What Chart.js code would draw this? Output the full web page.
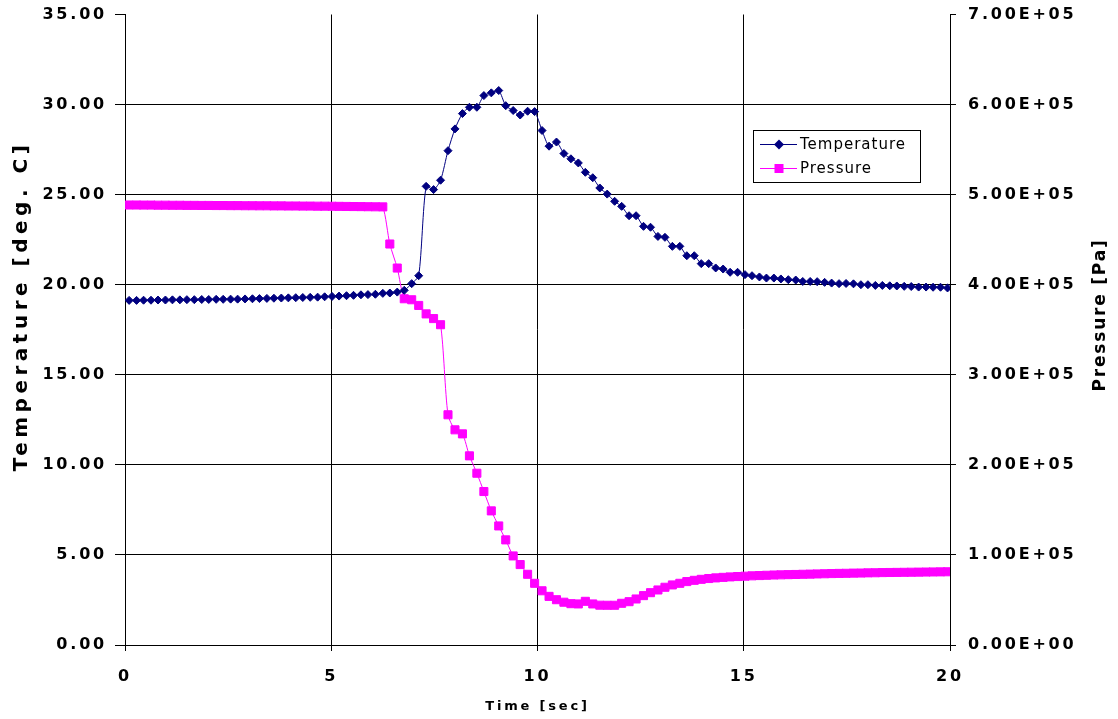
<!DOCTYPE html>
<html><head><meta charset="utf-8">
<script src="https://cdn.jsdelivr.net/npm/chart.js@4"></script>
<style>html,body{margin:0;padding:0;background:#fff;}canvas{display:block;}</style>
</head><body>
<canvas id="c" width="1118" height="719" style="width:1118px;height:719px"></canvas>
<script>
const timeSec = [0.10,0.28,0.45,0.63,0.80,0.98,1.15,1.33,1.50,1.68,1.86,2.03,2.21,2.38,2.56,2.73,2.91,3.09,3.26,3.44,3.61,3.79,3.96,4.14,4.31,4.49,4.67,4.84,5.02,5.19,5.37,5.54,5.72,5.89,6.07,6.25,6.42,6.60,6.77,6.95,7.12,7.30,7.48,7.65,7.83,8.00,8.18,8.35,8.53,8.70,8.88,9.06,9.23,9.41,9.58,9.76,9.93,10.11,10.28,10.46,10.64,10.81,10.99,11.16,11.34,11.51,11.69,11.87,12.04,12.22,12.39,12.57,12.74,12.92,13.09,13.27,13.45,13.62,13.80,13.97,14.15,14.32,14.50,14.67,14.85,15.03,15.20,15.38,15.55,15.73,15.90,16.08,16.26,16.43,16.61,16.78,16.96,17.13,17.31,17.48,17.66,17.84,18.01,18.19,18.36,18.54,18.71,18.89,19.06,19.24,19.42,19.59,19.77,19.94];
const temperature = [19.13,19.13,19.14,19.14,19.15,19.15,19.16,19.16,19.17,19.17,19.18,19.18,19.19,19.19,19.20,19.20,19.21,19.22,19.23,19.24,19.25,19.26,19.27,19.28,19.29,19.30,19.31,19.33,19.35,19.37,19.39,19.41,19.44,19.45,19.47,19.52,19.54,19.59,19.69,20.06,20.50,25.46,25.28,25.80,27.44,28.65,29.50,29.85,29.85,30.50,30.65,30.78,29.94,29.67,29.42,29.63,29.61,28.56,27.69,27.92,27.28,26.99,26.76,26.24,25.94,25.37,25.03,24.63,24.35,23.83,23.83,23.24,23.19,22.68,22.63,22.13,22.13,21.61,21.61,21.17,21.17,20.93,20.87,20.69,20.69,20.56,20.50,20.43,20.37,20.37,20.32,20.28,20.26,20.18,20.18,20.17,20.13,20.09,20.06,20.07,20.05,20.00,20.00,19.96,19.96,19.94,19.93,19.91,19.90,19.87,19.87,19.86,19.86,19.82];
const pressure = [488500,488500,488400,488400,488300,488300,488200,488200,488100,488100,488000,488000,487900,487900,487800,487800,487700,487700,487600,487600,487500,487500,487400,487400,487300,487300,487200,487200,487100,487000,486900,486800,486700,486600,486500,486400,445200,418500,384400,383300,377000,367600,362400,355600,255600,238900,234400,210000,190700,170400,148900,132200,116700,98900,89300,78500,68500,60200,54000,50300,47500,45900,45600,48500,45600,44200,44100,44100,46300,48100,51100,54800,58100,61100,64100,66700,68500,70400,71800,72900,73800,74500,75100,75600,76000,76400,76800,77100,77400,77700,77900,78100,78300,78500,78700,78900,79100,79300,79500,79600,79800,79900,80100,80200,80400,80500,80600,80700,80800,80900,81000,81100,81200,81300];
const seriesNames = ['Temperature', 'Pressure'];
const axisTitles = {x: 'Time [sec]', y: 'Temperature [deg. C]', y1: 'Pressure [Pa]'};
const xTickValues = [0, 5, 10, 15, 20];

const NAVY = '#000080', MAGENTA = '#FF00FF';
const tickFont = {family: 'DejaVu Sans', weight: 'bold', size: 16};

function sciLabel(v) {
  if (v === 0) return '0.00E+00';
  const e = Math.floor(Math.log10(Math.abs(v)) + 1e-9);
  const m = v / Math.pow(10, e);
  const es = (e < 0 ? '-' : '+') + String(Math.abs(e)).padStart(2, '0');
  return m.toFixed(2) + 'E' + es;
}

const spacingPlugin = {
  id: 'spacing',
  beforeDraw(chart) { chart.ctx.letterSpacing = '2.8px'; },
  beforeDatasetsDraw(chart) { chart.ctx.letterSpacing = '0px'; }
};

// vertical axis titles, both reading bottom-to-top as in the original
const yTitles = {
  id: 'yTitles',
  afterDraw(chart) {
    const ctx = chart.ctx;
    const items = [
      {text: axisTitles.y, x: 22, y: 306, size: 20, ls: '4.5px'},
      {text: axisTitles.y1, x: 1101, y: 315, size: 17, ls: '1.8px'}
    ];
    items.forEach(it => {
      ctx.save();
      ctx.letterSpacing = it.ls;
      ctx.translate(it.x, it.y);
      ctx.rotate(-Math.PI / 2);
      ctx.font = 'bold ' + it.size + 'px "DejaVu Sans"';
      ctx.fillStyle = '#000';
      ctx.textAlign = 'center';
      ctx.textBaseline = 'middle';
      ctx.fillText(it.text, 0, 0);
      ctx.restore();
    });
  }
};

const boxLegend = {
  id: 'boxLegend',
  afterDraw(chart) {
    const ctx = chart.ctx;
    ctx.save();
    ctx.letterSpacing = '1px';
    const bx = 753.5, by = 130.5, bw = 167, bh = 52;
    ctx.fillStyle = '#fff';
    ctx.fillRect(bx, by, bw, bh);
    ctx.strokeStyle = '#000';
    ctx.lineWidth = 1;
    ctx.strokeRect(bx, by, bw, bh);
    const rows = [144.5, 168.5];
    chart.data.datasets.forEach((ds, i) => {
      const y = rows[i];
      ctx.strokeStyle = ds.borderColor;
      ctx.lineWidth = 1;
      ctx.beginPath(); ctx.moveTo(760, y); ctx.lineTo(797, y); ctx.stroke();
      ctx.fillStyle = ds.borderColor;
      ctx.beginPath();
      if (ds.pointStyle === 'rectRot') {
        ctx.moveTo(779, y - 5); ctx.lineTo(784, y); ctx.lineTo(779, y + 5); ctx.lineTo(774, y); ctx.closePath();
      } else {
        ctx.rect(774.5, y - 4.5, 9, 9);
      }
      ctx.fill();
      ctx.fillStyle = '#000';
      ctx.font = '15px "DejaVu Sans"';
      ctx.textBaseline = 'middle';
      ctx.textAlign = 'left';
      ctx.fillText(ds.label, 800, y + 1);
    });
    ctx.restore();
  }
};

function fixV(s, w) { s.width = w; s.paddingTop = 0; s.paddingBottom = 0; }

new Chart(document.getElementById('c'), {
  type: 'scatter',
  data: {
    datasets: [
      {
        label: seriesNames[0],
        data: timeSec.map((t, i) => ({x: t, y: temperature[i]})),
        yAxisID: 'y',
        showLine: true,
        borderColor: NAVY, backgroundColor: NAVY,
        borderWidth: 1, tension: 0.25,
        pointStyle: 'rectRot', pointRadius: 4, pointBorderWidth: 1,
        pointBackgroundColor: NAVY, pointBorderColor: NAVY
      },
      {
        label: seriesNames[1],
        data: timeSec.map((t, i) => ({x: t, y: pressure[i]})),
        yAxisID: 'y1',
        showLine: true,
        borderColor: MAGENTA, backgroundColor: MAGENTA,
        borderWidth: 1, tension: 0.25,
        pointStyle: 'rect', pointRadius: 5.7, pointBorderWidth: 1,
        pointBackgroundColor: MAGENTA, pointBorderColor: MAGENTA
      }
    ]
  },
  options: {
    responsive: false,
    animation: false,
    devicePixelRatio: 1,
    layout: {padding: {top: 14.5, left: 0, right: 0, bottom: 0}},
    plugins: {legend: {display: false}, tooltip: {enabled: false}},
    scales: {
      x: {
        type: 'linear', min: 0, max: 20,
        afterBuildTicks: (s) => { s.ticks = xTickValues.map(v => ({value: v})); },
        afterFit: (s) => { s.height = 74; s.paddingLeft = 0; s.paddingRight = 0; },
        grid: {color: (c) => (c.tick && (c.tick.value === 0 || c.tick.value === 20)) ? 'rgba(0,0,0,0)' : '#000', lineWidth: 1, tickLength: 6, tickColor: '#000'},
        border: {color: '#000', width: 1},
        ticks: {color: '#000', font: tickFont, padding: 16, maxRotation: 0, autoSkip: false, callback: (v) => String(v)},
        title: {display: true, text: axisTitles.x, color: '#000', font: {family: 'DejaVu Sans', weight: 'bold', size: 13}, padding: {top: 0, bottom: 5}}
      },
      y: {
        type: 'linear', position: 'left', min: 0, max: 35,
        afterFit: (s) => fixV(s, 125),
        grid: {color: (c) => (c.tick && (c.tick.value === 35 || c.tick.value === 0)) ? 'rgba(0,0,0,0)' : '#000', lineWidth: 1, tickLength: 10, tickColor: '#000'},
        border: {color: '#000', width: 1},
        ticks: {stepSize: 5, color: '#000', font: tickFont, padding: 8, callback: (v) => Number(v).toFixed(2)},
        title: {display: false}
      },
      y1: {
        type: 'linear', position: 'right', min: 0, max: 700000,
        afterFit: (s) => fixV(s, 168),
        grid: {drawOnChartArea: false, tickLength: 6, tickColor: '#000'},
        border: {color: '#000', width: 1},
        ticks: {stepSize: 100000, color: '#000', font: tickFont, padding: 12, callback: (v) => sciLabel(Number(v))},
        title: {display: false}
      }
    }
  },
  plugins: [spacingPlugin, yTitles, boxLegend]
});
</script>
</body></html>
